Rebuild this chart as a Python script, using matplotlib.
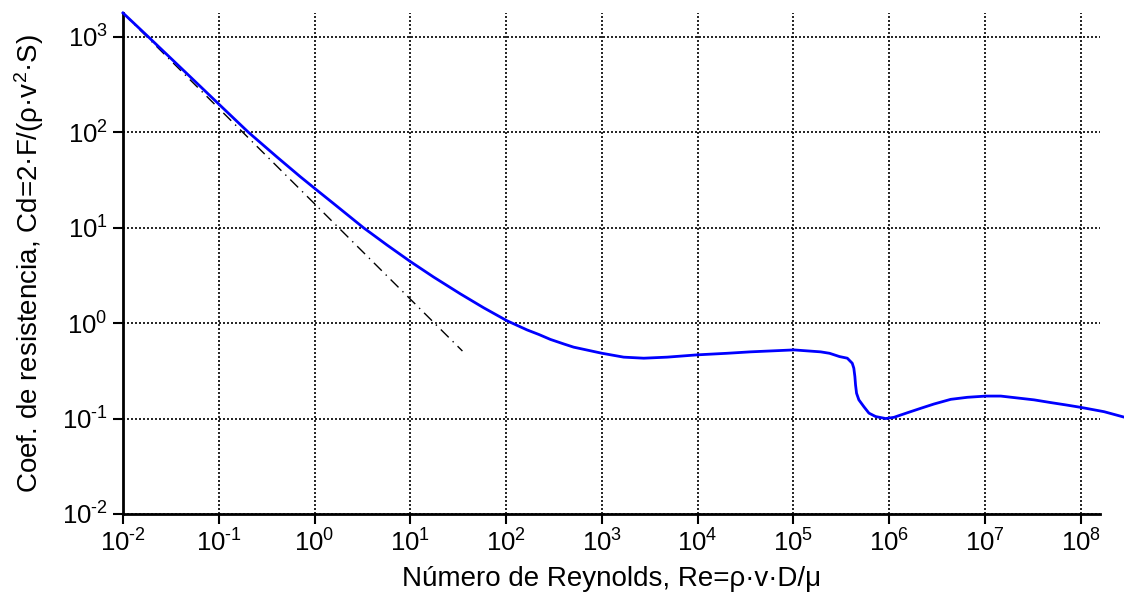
#Gráfica del coeficiente de resistencia de una esfera frente al número de Reynolds
import matplotlib
matplotlib.use("Agg")
from matplotlib import pyplot as plt

#Datos (Re, Cd)
reynolds = [0.01, 0.0184, 0.050, 0.103, 0.204, 0.405, 0.708, 1.06, 1.57, 3.24, 5.69,
            9.97, 17.5, 33.2, 58.2, 102, 165, 220, 290, 400, 507, 1004, 1690, 2735,
            4800, 9880, 2.03e4, 3.56e4, 1.01e5, 1.92e5, 2.38e5, 3.03e5, 3.65e5,
            4.11e5, 4.27e5, 4.38e5, 4.45e5, 4.56e5, 4.82e5, 5.44e5, 6.14e5, 7.21e5,
            9.17e5, 1.12e6, 1.32e6, 1.67e6, 2.13e6, 2.93e6, 4.39e6, 6.55e6, 1.02e7,
            1.46e7, 3.25e7, 4.86e7, 6.97e7, 1.0e8, 1.75e8, 2.88e8]
coef = [1780, 1000, 384, 192, 100, 55.1, 34.3, 24.7, 18.0, 10.0, 6.6,
        4.43, 3.04, 2.03, 1.45, 1.06, 0.85, 0.76, 0.675, 0.605, 0.56, 0.483, 0.44, 0.429,
        0.44, 0.465, 0.483, 0.50, 0.524, 0.50, 0.483, 0.446, 0.429,
        0.38, 0.337, 0.275, 0.225, 0.184, 0.157, 0.133, 0.114, 0.105,
        0.100, 0.103, 0.109, 0.118, 0.128, 0.142, 0.159, 0.167, 0.172,
        0.172, 0.157, 0.147, 0.139, 0.131, 0.118, 0.103]

#Recta de Stokes (línea de trazo y punto)
reynolds_stokes = [0.01, 35]
coef_stokes = [1780, 0.51]

#Marcas de los ejes
exp_x = list(range(-2, 9))
exp_y = list(range(-2, 4))

plt.rcParams['font.family'] = ['Liberation Sans', 'DejaVu Sans']
plt.rcParams['mathtext.fontset'] = 'custom'
plt.rcParams['mathtext.rm'] = 'Liberation Sans'
plt.rcParams['mathtext.it'] = 'Liberation Sans'

def etiqueta(e):
    #Potencia de diez con guion corto en el exponente
    if e < 0:
        return '10$^{\\text{-}%d}$' % (-e)
    return '10$^{%d}$' % e

fig = plt.figure(figsize=(11.24, 5.98), dpi=100)
ax = fig.add_axes([0.1094, 0.1405, 0.8692, 0.8378])

ax.plot(reynolds, coef, color='blue', lw=2, clip_on=False, zorder=3)
ax.plot(reynolds_stokes, coef_stokes, color='black', lw=1, dashes=(8, 4, 1, 4), zorder=2)

ax.set_xscale('log')
ax.set_yscale('log')
ax.set_xlim(1e-2, 10**8.2)
ax.set_ylim(1e-2, 10**3.25)
ax.set_xticks([10.0**e for e in exp_x], [etiqueta(e) for e in exp_x])
ax.set_yticks([10.0**e for e in exp_y], [etiqueta(e) for e in exp_y])
ax.minorticks_off()

#Cuadrícula punteada
ax.grid(True, color='black', linestyle=(0, (1.2, 1.2)), lw=1.2)
ax.set_axisbelow(True)

#Solo ejes izquierdo e inferior
ax.spines['top'].set_visible(False)
ax.spines['right'].set_visible(False)
ax.spines['left'].set_linewidth(2)
ax.spines['bottom'].set_linewidth(2)
ax.tick_params(direction='out', length=7, width=1.5, pad=4, labelsize=18.5)

ax.set_xlabel('Número de Reynolds, Re=ρ·v·D/μ', fontsize=20, labelpad=7)
ax.set_ylabel('Coef. de resistencia, Cd=2·F/(ρ·v$^{2}$·S)', fontsize=20, labelpad=11)

plt.savefig('out.png', dpi=100)
